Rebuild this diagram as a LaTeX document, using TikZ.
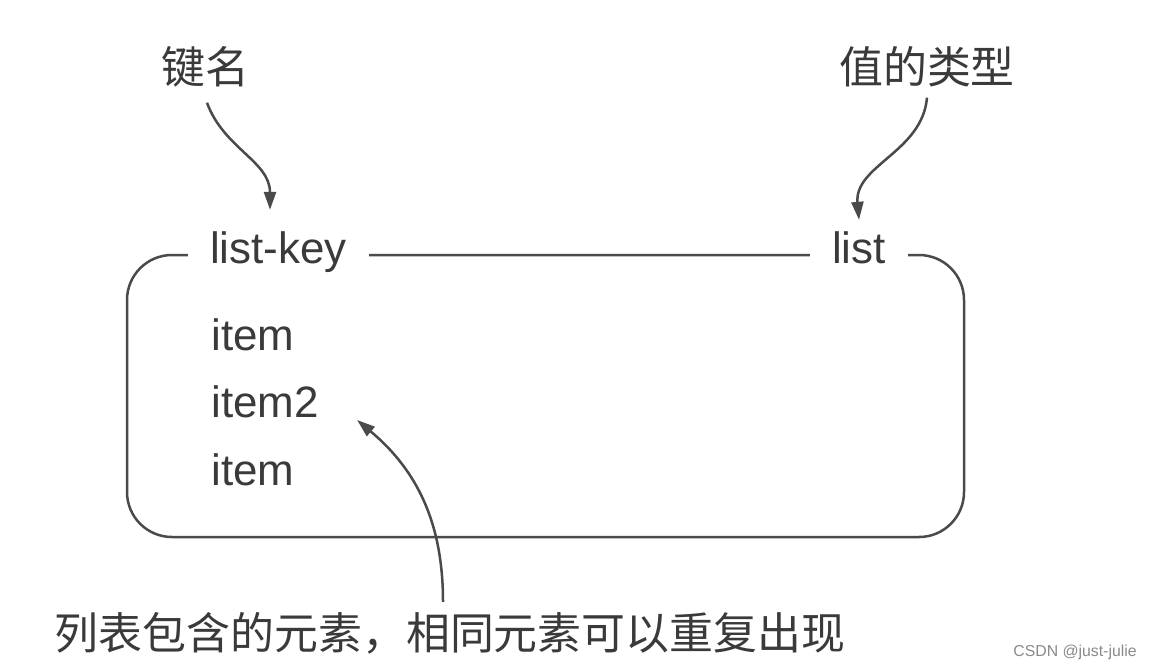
\documentclass[tikz,border=0pt]{standalone}
\usepackage{fontspec}
\usepackage{xcolor}
\usepackage{tikz}
\usetikzlibrary{positioning, arrows.meta}
\setmainfont{Liberation Sans}
\newfontfamily\cjk{Noto Sans CJK SC}
\definecolor{lsLine}{RGB}{74, 74, 74}
\definecolor{lsText}{RGB}{58, 58, 58}
\definecolor{lsMark}{RGB}{138, 138, 138}
\tikzset{
    base/.style={
        text=lsText,
        inner sep=0pt
    },
    caption/.style={
        base,
        font=\cjk\fontsize{25}{30}\selectfont
    },
    word/.style={
        base,
        font=\fontsize{25}{30}\selectfont
    },
    gapword/.style={
        word,
        fill=white,
        inner xsep=0.44cm,
        anchor=base
    },
    entry/.style={
        word,
        anchor=base west
    },
    frame/.style={
        draw=lsLine,
        line width=0.05cm,
        rounded corners=0.9cm
    },
    pointer/.style={
        -{Triangle[length=0.36cm, width=0.24cm]},
        line width=0.05cm,
        color=lsLine
    }
}

\begin{document}
\begin{tikzpicture}[x=0.02cm, y=-0.02cm]
  \fill[white] (0,0) rectangle (1152,670);
  \useasboundingbox (0,0) rectangle (1152,670);

  % Key container
  \draw[frame] (127,255) rectangle (964,537);

  % Header on the top edge
  \node[gapword] (key) at (278.5,263) {list-key};
  \node[gapword] (type) at (859,263) {list};

  % Elements
  \node[entry] (item1) at (211,350) {item};
  \node[entry] (item2) at (211,417) {item2};
  \node[entry] (item3) at (211,485) {item};

  % Captions
  \node[caption] (keyname) at (205,67) {键名};
  \node[caption] (valtype) at (927,67) {值的类型};
  \node[caption] (note) at (450,633) {列表包含的元素，相同元素可以重复出现};

  % Pointers
  \draw[pointer] ([xshift=0.04cm, yshift=-0.3cm]keyname.south)
      to[out=-70, in=90] ([xshift=-0.17cm, yshift=0.42cm]key.north);
  \draw[pointer] ([yshift=-0.2cm]valtype.south)
      to[out=-95, in=95] ([yshift=0.22cm]type.north);
  \draw[pointer] ([xshift=-0.14cm, yshift=0.2cm]note.north)
      to[out=90, in=-40] ([xshift=0.76cm, yshift=-0.06cm]item2.base east);

  % Watermark
  \node[base, text=lsMark, font=\fontsize{9}{11}\selectfont, anchor=east] (mark) at (1137,652) {CSDN @just-julie};
\end{tikzpicture}
\end{document}
